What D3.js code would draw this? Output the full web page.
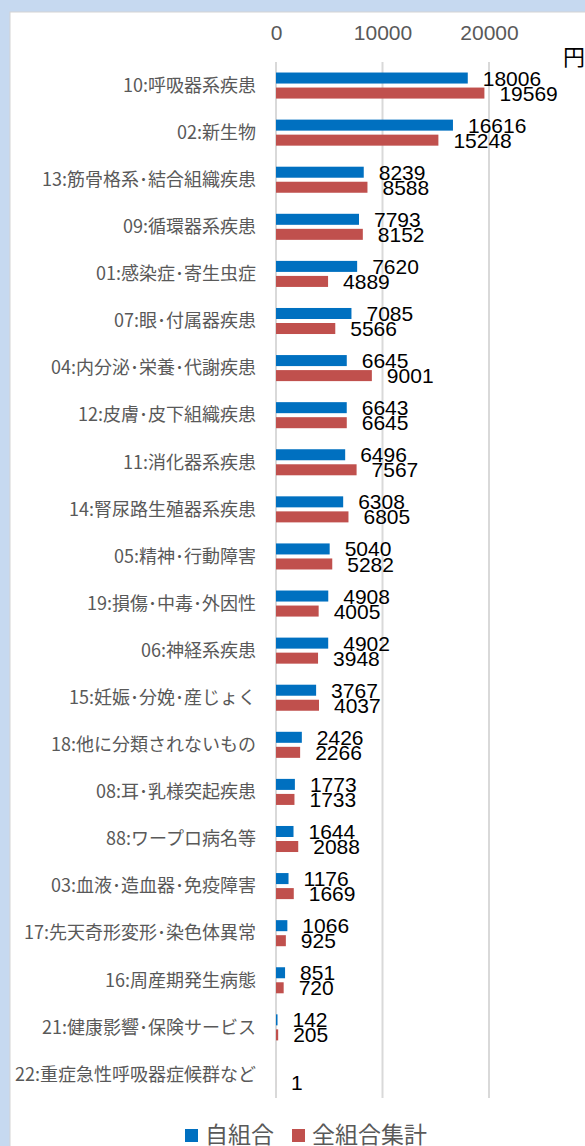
<!DOCTYPE html>
<html>
<head>
<meta charset="utf-8">
<script src="https://cdn.jsdelivr.net/npm/d3@7"></script>
<style>
  body { margin: 0; background: #c6d9f0; }
  svg { display: block; }
</style>
</head>
<body>
<div id="chart"></div>
<script>
// categories, top to bottom
var categories = [
  "10:呼吸器系疾患", "02:新生物", "13:筋骨格系･結合組織疾患", "09:循環器系疾患",
  "01:感染症･寄生虫症", "07:眼･付属器疾患", "04:内分泌･栄養･代謝疾患", "12:皮膚･皮下組織疾患",
  "11:消化器系疾患", "14:腎尿路生殖器系疾患", "05:精神･行動障害", "19:損傷･中毒･外因性",
  "06:神経系疾患", "15:妊娠･分娩･産じょく", "18:他に分類されないもの", "08:耳･乳様突起疾患",
  "88:ワープロ病名等", "03:血液･造血器･免疫障害", "17:先天奇形変形･染色体異常", "16:周産期発生病態",
  "21:健康影響･保険サービス", "22:重症急性呼吸器症候群など"
];
var ownValues = [18006, 16616, 8239, 7793, 7620, 7085, 6645, 6643, 6496, 6308, 5040, 4908,
  4902, 3767, 2426, 1773, 1644, 1176, 1066, 851, 142, null];
var allValues = [19569, 15248, 8588, 8152, 4889, 5566, 9001, 6645, 7567, 6805, 5282, 4005,
  3948, 4037, 2266, 1733, 2088, 1669, 925, 720, 205, 1];
var seriesNames = ["自組合", "全組合集計"];
var seriesColors = ["#0070c0", "#c0504d"];
var tickValues = [0, 10000, 20000];

var W = 585, H = 1146;

var svg = d3.select("#chart").append("svg")
    .attr("width", W)
    .attr("height", H);

// white panel
svg.append("rect")
    .attr("x", 10).attr("y", 12)
    .attr("width", W).attr("height", H)
    .attr("fill", "#fff")
    .attr("stroke", "#d4d4d4")
    .attr("stroke-width", 1);

var x = d3.scaleLinear().domain([0, 30000]).range([276, 595.5]);
var y = d3.scaleBand().domain(categories).range([62, 1098]);
var inner = d3.scaleBand().domain([0, 1]).range([0, y.bandwidth()])
    .paddingInner(0.267).paddingOuter(0.70);

// gridlines
svg.append("g").selectAll("line")
    .data(tickValues)
  .enter().append("line")
    .attr("x1", function(d) { return x(d); })
    .attr("x2", function(d) { return x(d); })
    .attr("y1", 62).attr("y2", 1098)
    .attr("stroke", "#d9d9d9")
    .attr("stroke-width", 2);

// top axis labels
var xAxis = d3.axisTop(x).tickValues(tickValues).tickFormat(d3.format("d"))
    .tickSize(0).tickPadding(0);
var gx = svg.append("g")
    .attr("transform", "translate(0,40)")
    .call(xAxis);
gx.select(".domain").remove();
gx.selectAll("text")
    .attr("fill", "#595959")
    .style("font-family", "Liberation Sans, Arial, sans-serif")
    .style("font-size", "21px");

svg.append("text")
    .attr("x", 563).attr("y", 65)
    .style("font-family", "Noto Sans CJK JP")
    .style("font-size", "22px")
    .attr("fill", "#000")
    .text("円");

// category labels
svg.append("g").selectAll("text")
    .data(categories)
  .enter().append("text")
    .attr("x", 256)
    .attr("y", function(d) { return y(d) + y.bandwidth() / 2; })
    .attr("dy", "0.35em")
    .attr("text-anchor", "end")
    .attr("fill", "#595959")
    .style("font-family", "Noto Sans CJK JP")
    .style("font-size", "18px")
    .text(function(d) { return d; });

// bars + labels per series
[ownValues, allValues].forEach(function(vals, si) {
    var rows = categories.map(function(c, i) { return {cat: c, v: vals[i]}; })
        .filter(function(d) { return d.v !== null; });

    svg.append("g").selectAll("rect")
        .data(rows)
      .enter().append("rect")
        .attr("x", x(0))
        .attr("y", function(d) { return y(d.cat) + inner(si); })
        .attr("width", function(d) { return Math.max(x(d.v) - x(0), 0); })
        .attr("height", inner.bandwidth())
        .attr("fill", seriesColors[si]);

    svg.append("g").selectAll("text")
        .data(rows)
      .enter().append("text")
        .attr("x", function(d) { return x(d.v) + 15; })
        .attr("y", function(d) { return y(d.cat) + inner(si) + inner.bandwidth() / 2; })
        .attr("dy", "0.36em")
        .attr("fill", "#000")
        .style("font-family", "Liberation Sans, Arial, sans-serif")
        .style("font-size", "21px")
        .text(function(d) { return d.v; });
});

// legend
var legend = svg.append("g");
var legX = [185, 292];
seriesNames.forEach(function(name, i) {
    legend.append("rect")
        .attr("x", legX[i]).attr("y", 1129)
        .attr("width", 13).attr("height", 13)
        .attr("fill", seriesColors[i]);
    legend.append("text")
        .attr("x", legX[i] + 20).attr("y", 1143)
        .attr("fill", "#595959")
        .style("font-family", "Noto Sans CJK JP")
        .style("font-size", "23px")
        .text(name);
});
</script>
</body>
</html>
